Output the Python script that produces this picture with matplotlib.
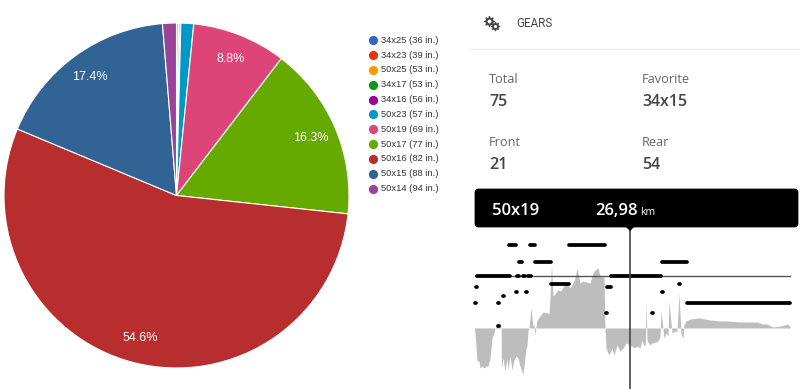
import matplotlib
matplotlib.use("Agg")
import matplotlib.pyplot as plt
from matplotlib.patches import FancyBboxPatch, Polygon
from matplotlib import font_manager as fm

W, H = 800, 389
gears = ["34x25 (36 in.)", "34x23 (39 in.)", "50x25 (53 in.)", "34x17 (53 in.)", "34x16 (56 in.)",
         "50x23 (57 in.)", "50x19 (69 in.)", "50x17 (77 in.)", "50x16 (82 in.)", "50x15 (88 in.)", "50x14 (94 in.)"]
shares = [0.01, 0.01, 0.17, 0.15, 0.06, 1.2, 8.8, 16.3, 54.6, 17.4, 1.3]
colors = ["#3366cc", "#dc3912", "#ff9900", "#109618", "#990099", "#0099c6",
          "#dd4477", "#66aa00", "#b82e2e", "#316395", "#994499"]

stat_labels = ["Total", "Favorite", "Front", "Rear"]
stat_values = ["75", "34x15", "21", "54"]

# profile: (position along the ride, signed value)
profile = [
    (474.5, 0), (476, -18), (477, -33), (479, -33), (480, -40), (482, -38), (484, -40), (486, -38), (488, -38),
    (490, -30), (491, -20), (492, -10), (494, -5), (495, 0), (496.5, 2), (498, 2), (498.5, 3), (499.5, 8), (500, 3),
    (501, 1), (501.2, 0), (501.4, -41), (503, -30), (505, -43), (507, -30), (508, -42), (510, -28), (512, -42),
    (514, -32), (516, -28), (518, -30), (520, -38), (523, -46), (526, -20), (527, -18), (528, -3), (529, 0),
    (531, 20), (533, 1), (534, 5), (535, -7), (537, 8), (540, 12), (543, 16), (548, 15), (549, 14), (550, 30),
    (551.5, 63), (553, 32), (554, 33), (558, 38), (561, 37), (564, 43), (566, 46), (570, 40), (573, 45), (575, 50),
    (577, 60), (580, 45), (583, 47), (590, 45), (593, 55), (595, 58), (598, 60), (600, 52), (603, 51), (604, 50),
    (605, 0), (606, -20), (609, -27), (612, -20), (614, -27), (617, -17), (620, -23), (623, -20), (626, -15),
    (628, -16), (630, -18), (632, -18), (634, -20), (637, -18), (640, -20), (642, -12), (644, -18), (645.5, -16),
    (646, 27), (647, -12), (648, -14), (650, -17), (652, -15), (656, -14), (658, -13), (660, -9), (661, 17), (664, -10),
    (666, -5), (668, -8), (669, 27), (672, -5), (675, -3), (677, -4), (679, 35), (681, -6), (683, -10), (684, 3),
    (686, 7), (690, 9), (700, 10), (710, 8), (720, 7), (727, 7), (740, 6), (757, 6), (760, 5), (763, 4), (767, 4),
    (773, 1), (780, 2), (785, 3), (787, 4), (790, 2),
]
prof_x = [p[0] for p in profile]
prof_v = [p[1] for p in profile]

# gear-use bars: (start, end) per row level
row_y = [245, 262, 275.5, 284, 287, 292, 296, 303, 313, 326]
row_segs = [
    [(509, 516), (530, 535), (569, 605)],
    [(519, 522), (535, 551), (662, 687)],
    [(477, 507), (508, 510), (517, 519), (523, 525), (528, 531), (611, 661)],
    [(551, 569), (679, 679.6)],
    [(476, 477), (607, 611)],
    [(516, 516.6), (526, 526.6), (662, 662.6)],
    [(503, 503.6)],
    [(475, 475.6), (498, 498.6), (687, 790)],
    [(606, 606.6), (652, 652.6)],
    [(498, 498.6)],
]

fig = plt.figure(figsize=(W / 100, H / 100), dpi=100, facecolor="white")
ax = fig.add_axes([0, 0, 1, 1])
ax.set_xlim(0, W)
ax.set_ylim(H, 0)
ax.axis("off")

pie_ax = fig.add_axes([4 / W, 1 - 368 / H, 345 / W, 345 / H])
wedges, _, autotexts = pie_ax.pie(
    shares, colors=colors, startangle=90, counterclock=False, radius=1.0,
    autopct=lambda p: f"{p:.1f}%" if p > 5 else "", pctdistance=0.85,
    wedgeprops=dict(edgecolor="white", linewidth=0.8),
    textprops=dict(color="white", fontsize=9, family="Liberation Sans"),
)
pie_ax.set_xlim(-1, 1)
pie_ax.set_ylim(-1, 1)

for i, (g, c) in enumerate(zip(gears, colors)):
    y = 40.3 + i * 14.83
    ax.scatter([372.5], [y], s=44, color=c, linewidths=0, zorder=3)
    ax.text(381, y, g, fontsize=6.75, color="#333333", family="Liberation Sans", va="center", ha="left")

# header
ax.scatter([489], [20.5], s=50, marker=(8, 1, 0), color="#444444", linewidths=1)
ax.scatter([489], [20.5], s=14, color="white", edgecolors="#444444", linewidths=0.9, zorder=3)
ax.scatter([494.5], [25.5], s=34, marker=(8, 1, 0), color="#444444", linewidths=1, zorder=4)
ax.scatter([494.5], [25.5], s=10, color="white", edgecolors="#444444", linewidths=0.9, zorder=5)
names = {f.name for f in fm.fontManager.ttflist}
narrow = "Liberation Sans Narrow" in names
ax.text(516, 23, "GEARS", fontsize=10 if narrow else 8.4, color="#444444",
        family="Liberation Sans Narrow" if narrow else "Roboto", va="center", ha="left")
ax.plot([470, 800], [48.5, 48.5], color="#eeeeee", lw=1)

xs_stat = [489, 642, 489, 642]
ys_lab = [79, 79, 142, 142]
ys_val = [101.5, 101.5, 164.5, 164.5]
for x, yl, yv, l, v in zip(xs_stat, ys_lab, ys_val, stat_labels, stat_values):
    ax.text(x, yl, l, fontsize=9.2, color="#666666", family="Open Sans", va="center", ha="left")
    ax.text(x, yv, v, fontsize=11.5, color="#444444", family="Open Sans", weight="semibold", va="center", ha="left")

# profile
ax.fill_between(prof_x, 328, [328 - v for v in prof_v], color="#bdbdbd", lw=0, zorder=1)
ax.plot([475, 790], [275.5, 275.5], color="#555555", lw=1, zorder=2)
for y, segs in zip(row_y, row_segs):
    for a, b in segs:
        ax.plot([a, b], [y, y], color="black", lw=2.7, solid_capstyle="round", zorder=3)
ax.plot([630, 630], [226, 389], color="#444444", lw=1.2, zorder=4)

# tooltip
ax.add_patch(FancyBboxPatch((476, 190), 321, 36, boxstyle="round,pad=0,rounding_size=2.5",
                            fc="black", ec="black", lw=2, zorder=5))
ax.add_patch(Polygon([(625, 226), (635, 226), (630, 231)], closed=True, fc="black", ec="none", zorder=5))
ax.text(492, 210.5, "50x19", fontsize=12, color="white", family="Open Sans", weight="semibold", va="center", zorder=6)
ax.text(595, 210.5, "26,98", fontsize=12, color="white", family="Open Sans", weight="semibold", va="center", zorder=6)
ax.text(640, 212, "km", fontsize=7.5, color="white", family="Open Sans", va="center", zorder=6)

fig.savefig("out.png", dpi=100, facecolor="white")
